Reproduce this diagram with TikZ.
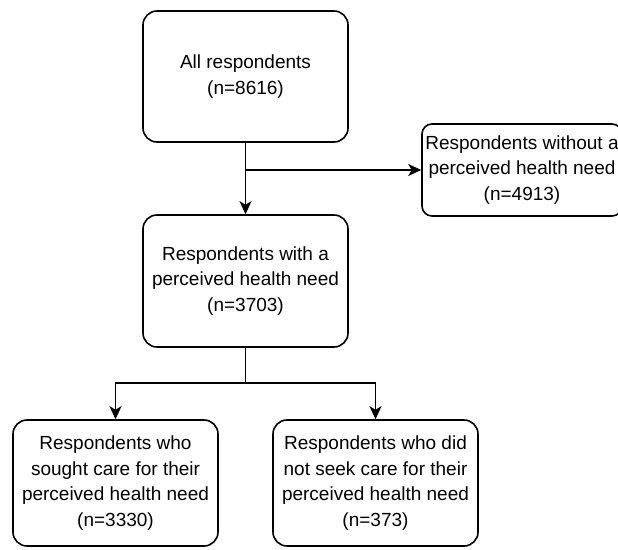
\documentclass[tikz,border=0pt]{standalone}
\usepackage{fontspec}
\setmainfont{Liberation Sans}
\usetikzlibrary{arrows.meta}
\begin{document}
\begin{tikzpicture}[x=1pt,y=-1pt,
  box/.style={draw=black, line width=1.6pt, rounded corners=14pt, align=center,
    inner sep=0pt, font=\fontsize{19}{25.5}\selectfont},
  flow/.style={draw=black, line width=1.6pt, -{Stealth[length=13pt,width=12pt,inset=3.5pt]}}]
\useasboundingbox (0,0) rectangle (618,549);
\node[box, minimum width=205pt, minimum height=131pt] (all) at (245.5,76.5) {All respondents\\(n=8616)};
\node[box, rounded corners=10pt, minimum width=200pt, minimum height=92pt] (without) at (522,170) {Respondents without a\\perceived health need\\(n=4913)};
\node[box, minimum width=205pt, minimum height=132pt] (with) at (245.5,281) {Respondents with a\\perceived health need\\(n=3703)};
\node[box, minimum width=205pt, minimum height=126pt] (sought) at (115.5,483) {Respondents who\\sought care for their\\perceived health need\\(n=3330)};
\node[box, minimum width=205pt, minimum height=126pt] (notseek) at (375.5,483) {Respondents who did\\not seek care for their\\perceived health need\\(n=373)};
\coordinate (branch) at (245.5,170);
\coordinate (split) at (245.5,383);
\draw[flow] (all) -- (with);
\draw[flow] (branch) -- (without);
\draw[line width=1.6pt] (with) -- (split);
\draw[flow] (split) -| (sought);
\draw[flow] (split) -| (notseek);
\end{tikzpicture}
\end{document}
